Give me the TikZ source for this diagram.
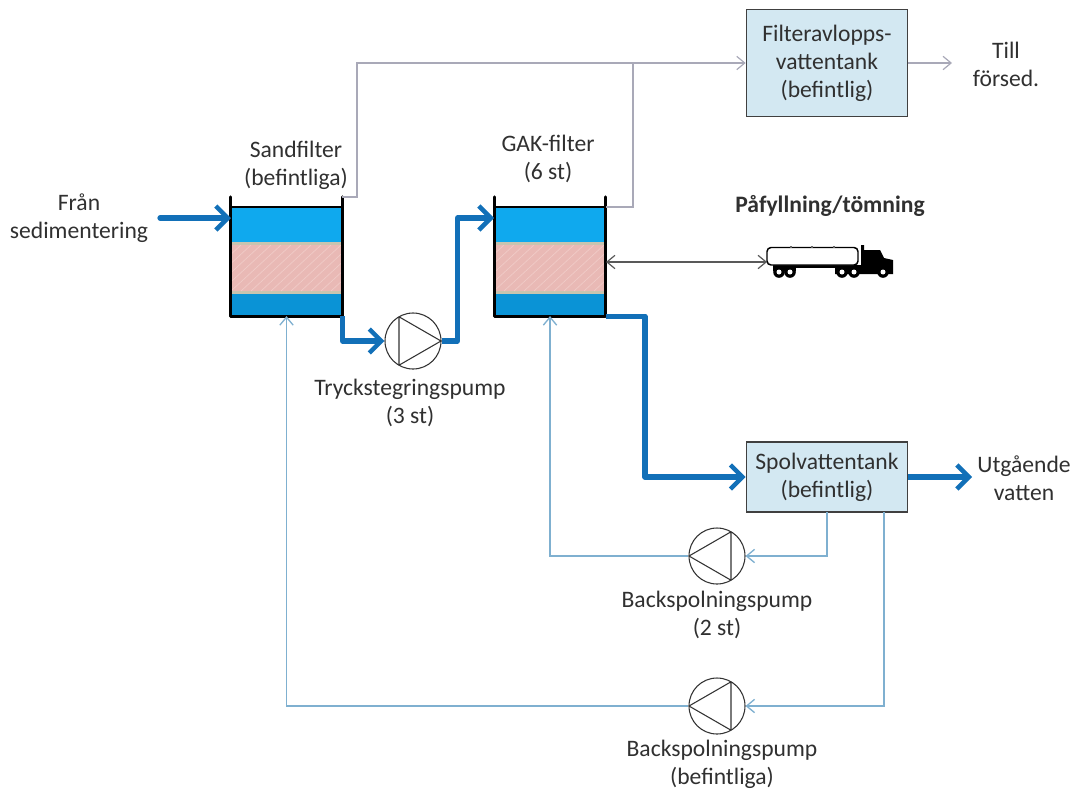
\documentclass[tikz,border=0pt]{standalone}
\usepackage{fontspec}
\setmainfont{Carlito}
\usetikzlibrary{arrows.meta,calc}
\definecolor{thickblue}{HTML}{1270B8}
\definecolor{lightblue}{HTML}{7FB0D0}
\definecolor{greyline}{HTML}{A9A9B8}
\definecolor{waterA}{HTML}{0FA9EE}
\definecolor{waterB}{HTML}{0A93D6}
\definecolor{sandcol}{HTML}{E9B9B5}
\definecolor{sandedge}{HTML}{C9C4B0}
\definecolor{hatchcol}{HTML}{F0CCC8}
\definecolor{tankfill}{HTML}{D3E8F2}
\definecolor{txt}{HTML}{303030}
\tikzset{
  x=0.75pt,y=-0.75pt,
  labfont/.style={font=\fontsize{17.7pt}{21pt}\selectfont},
  lab/.style={labfont,text=txt,align=center,inner sep=0pt},
  flowthick/.style={draw=thickblue,line width=3.9pt,line join=round,-{Straight Barb[length=9pt,width=18pt,line width=3.4pt]}},
  flowthin/.style={draw=lightblue,line width=1pt,-{Straight Barb[length=6pt,width=10pt]}},
  flowgrey/.style={draw=greyline,line width=0.9pt,-{Straight Barb[length=6pt,width=10pt]}},
  greyplain/.style={draw=greyline,line width=0.9pt},
  tankbox/.style={labfont,draw=black!75,line width=1pt,fill=tankfill,minimum width=121pt,align=center,inner sep=0pt,text=txt},
  pumpc/.style={circle,draw=black!80,line width=0.8pt,fill=white,minimum size=42pt,inner sep=0pt},
  filterbox/.style={minimum width=83.5pt,minimum height=81.5pt,inner sep=0pt},
  wall/.style={line width=2.2pt,draw=black,line cap=round,line join=round}
}
\newcommand{\filterbody}[3]{%
  \fill[waterA] (#1,207) rectangle (#2,242);
  \fill[sandedge] (#1,242) rectangle (#2,294);
  \fill[sandcol] (#1,245) rectangle (#2,291);
  \begin{scope}
    \clip (#1,245) rectangle (#2,291);
    \foreach \k in {0,10,...,170}
      \draw[hatchcol,line width=0.5pt] ({#1+\k-50},291) -- ({#1+\k},245);
  \end{scope}
  \fill[waterB] (#1,294) rectangle (#2,316);
  \node[filterbox] (#3) at ({(#1+#2)/2},261.5) {};
  \draw[line width=1.1pt] (#3.north west) -- (#3.north east);
  \draw[wall] ([yshift=7.5pt]#3.north west) -- (#3.south west) -- (#3.south east) -- ([yshift=7.5pt]#3.north east);
}
\newcommand{\pumpsym}[2]{%
  \draw[black!80,line width=0.8pt,line join=round]
    ($(#1)+(#2*28,0)$) -- ($(#1)+(-#2*14,-24.2)$) -- ($(#1)+(-#2*14,24.2)$) -- cycle;
}
\begin{document}
\begin{tikzpicture}
\useasboundingbox (0,0) rectangle (1073,789);
\filterbody{231}{342}{sand}
\filterbody{494}{606}{gak}

\node[pumpc] (p1) at (413,341) {};
\node[pumpc] (p2) at (717,556) {};
\node[pumpc] (p3) at (717,706) {};
\pumpsym{p1}{1}
\pumpsym{p2}{-1}
\pumpsym{p3}{-1}

\node[tankbox,minimum height=80pt] (ft) at (827,63) {Filteravlopps-\\vattentank\\(befintlig)};
\node[tankbox,minimum height=52.5pt] (st) at (827,477) {Spolvattentank\\(befintlig)};

\node[lab] (l1) at (79,218) {Från\\sedimentering};
\node[lab] (l2) at (296,165) {Sandfilter\\(befintliga)};
\node[lab] (l3) at (548,159) {GAK-filter\\(6 st)};
\node[lab] (l4) at (410,403) {Tryckstegringspump\\(3 st)};
\node[lab,font=\fontsize{17.7pt}{21pt}\selectfont\bfseries] (l5) at (830,206) {Påfyllning/tömning};
\node[lab] (l6) at (717,615) {Backspolningspump\\(2 st)};
\node[lab] (l7) at (722,764) {Backspolningspump\\(befintliga)};
\node[lab] (l8) at (1006,64) {Till\\försed.};
\node[lab] (l9) at (1024,478) {Utgående\\vatten};

\coordinate (fraan) at (160,218);
\coordinate (sandin) at (231,218);
\coordinate (gakin) at (494,218);
\coordinate (sandout) at (342,197);
\coordinate (gakout) at (606,207);
\coordinate (join) at (633,63);
\coordinate (tillend) at (952,63);
\coordinate (utend) at (972,477);
\coordinate (truckL) at (767,262);
\coordinate (gakside) at (606,262);
\coordinate (spolA) at (827,512);
\coordinate (spolB) at (884,512);

\draw[flowgrey] (sandout) -- ++(15,0) |- (ft.west);
\draw[greyplain] (gakout) -| (join);
\draw[flowgrey] (ft.east) -- (tillend);

\draw[flowthick,line cap=round] (fraan) -- (sandin);
\draw[flowthick] (sand.south east) |- (p1.west);
\draw[flowthick] (p1.east) -- ++(16,0) |- (gakin);
\draw[flowthick] (gak.south east) -- ++(39,0) |- (st.west);
\draw[flowthick] (st.east) -- (utend);

\draw[flowthin] (spolA) |- (p2.east);
\draw[flowthin] (p2.west) -| (gak.south);
\draw[flowthin] (spolB) |- (p3.east);
\draw[flowthin] (p3.west) -| (sand.south);

\draw[draw=black!65,line width=0.9pt,{Straight Barb[length=6pt,width=10pt]}-{Straight Barb[length=6pt,width=10pt]}] (gakside) -- (truckL);

% truck
\fill[black] (861,245) -- (864,245) -- (864,250) -- (880,250) -- (884,258) -- (893,260) -- (893,274) -- (835,274) -- (835,265) -- (861,265) -- cycle;
\fill[black] (773,265) rectangle (835,268);
\fill[black] (773,265) rectangle (796,271);
\draw[black,line width=1.1pt,fill=white,rounded corners=3pt] (767,247.5) rectangle (858,265);
\foreach \x in {790,811,833} \fill[black!60] (\x,246) rectangle (\x+2,248);
\foreach \x in {779,790,842,854,883}{
  \fill[black] (\x,272) circle (5.8);
  \fill[white] (\x,272) circle (2.5);
}
\end{tikzpicture}
\end{document}
